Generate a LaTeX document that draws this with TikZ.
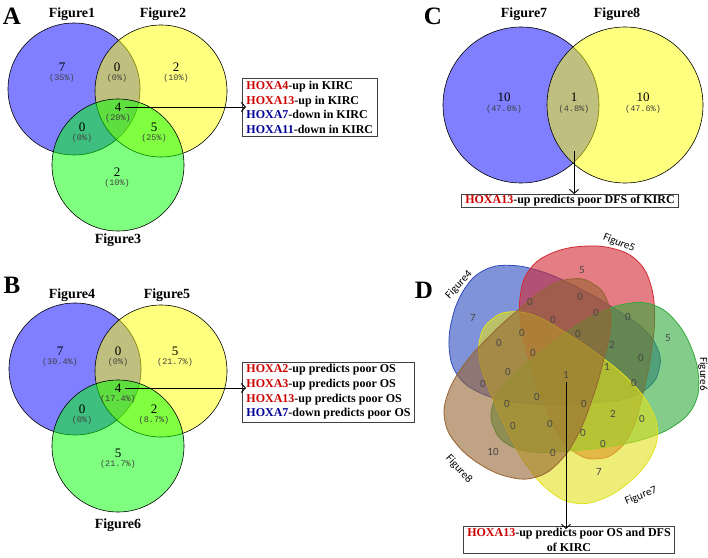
\documentclass[tikz,border=0pt]{standalone}
\usepackage{fontspec}
\setmainfont{Liberation Serif}
\newfontfamily\monof{Liberation Mono}
\newfontfamily\carl{Carlito}
\usetikzlibrary{arrows.meta}
\definecolor{hred}{RGB}{205,0,0}
\definecolor{hblue}{RGB}{0,0,150}
\definecolor{vblue}{RGB}{0,0,255}
\definecolor{vyel}{RGB}{255,255,0}
\definecolor{vgreen}{RGB}{0,255,0}
\definecolor{dblue}{RGB}{45,75,190}
\definecolor{dred}{RGB}{210,40,50}
\definecolor{dgreen}{RGB}{50,170,60}
\definecolor{dyel}{RGB}{225,225,30}
\definecolor{dbrown}{RGB}{150,100,50}
\tikzset{
  cnt/.style={font=\fontsize{13}{13}\selectfont, inner sep=0pt},
  pct/.style={font=\monof\fontsize{8.5}{8.5}\selectfont, text=black!75, inner sep=0pt},
  flab/.style={font=\bfseries\fontsize{14}{14}\selectfont, inner sep=0pt},
  plab/.style={font=\bfseries\fontsize{25}{25}\selectfont, inner sep=0pt},
  vc/.style={draw=black, line width=0.6pt, fill opacity=0.5},
  gbox/.style={draw=black!75, line width=0.9pt, font=\bfseries\fontsize{12}{14.7}\selectfont, inner xsep=4pt, inner ysep=2.5pt, fill=white},
  arr/.style={-{Straight Barb[length=4pt,width=9pt]}, line width=0.9pt},
  dn/.style={font=\carl\fontsize{11}{11}\selectfont, text=black!72, inner sep=0pt},
  dlab/.style={font=\carl\fontsize{11}{11}\selectfont, inner sep=0pt},
  blobd/.style={line width=0.8pt, fill opacity=0.6},
  blob/.pic={\path[pic actions] plot[smooth cycle, tension=0.7] coordinates
    {(106,0) (101,32) (87,54) (64,65) (32,67) (-5,61) (-45,50) (-82,36) (-102,18)
     (-107,0) (-102,-18) (-82,-36) (-45,-50) (-5,-61) (32,-67) (64,-65) (87,-54) (101,-32)};}
}
\begin{document}
\begin{tikzpicture}[x=1pt,y=1pt]
\useasboundingbox (0,0) rectangle (708,557);
\fill[white] (0,0) rectangle (708,557);
%%%%% Panel A
\node[plab] (lA) at (12,541) {A};
\node[flab] (f1) at (72,543) {Figure1};
\node[flab] (f2) at (163,543) {Figure2};
\node[flab] (f3) at (118,317) {Figure3};
\draw[vc, fill=vblue] (74,468) circle[radius=66];
\draw[vc, fill=vyel] (161,466) circle[radius=66];
\draw[vc, fill=vgreen] (118,392) circle[radius=66];
\node[cnt] (a1) at (62,490) {7};   \node[pct] (a1p) at (62,479) {(35\%)};
\node[cnt] (a2) at (117,490) {0};  \node[pct] (a2p) at (117,479) {(0\%)};
\node[cnt] (a3) at (176,490) {2};  \node[pct] (a3p) at (176,479) {(10\%)};
\node[cnt] (a4) at (118,450) {4};  \node[pct] (a4p) at (118,439) {(20\%)};
\node[cnt] (a5) at (82,430) {0};   \node[pct] (a5p) at (82,419) {(0\%)};
\node[cnt] (a6) at (154,430) {5};  \node[pct] (a6p) at (154,419) {(25\%)};
\node[cnt] (a7) at (117,385) {2};  \node[pct] (a7p) at (117,374) {(10\%)};
\node[gbox, anchor=west, align=left] (boxA) at (242,449.5)
  {\textcolor{hred}{HOXA4}-up in KIRC\\ \textcolor{hred}{HOXA13}-up in KIRC\\
   \textcolor{hblue}{HOXA7}-down in KIRC\\ \textcolor{hblue}{HOXA11}-down in KIRC};
\draw[arr] ([xshift=4pt]a4.east) -- ([xshift=4pt]a4.east -| boxA.west);
%%%%% Panel B
\node[plab] (lB) at (12,272) {B};
\node[flab] (f4) at (72,262) {Figure4};
\node[flab] (f5) at (167,262) {Figure5};
\node[flab] (f6) at (118,32) {Figure6};
\draw[vc, fill=vblue] (75,188) circle[radius=66];
\draw[vc, fill=vyel] (161,186) circle[radius=66];
\draw[vc, fill=vgreen] (118,111) circle[radius=66];
\node[cnt] (b1) at (60,206) {7};   \node[pct] (b1p) at (60,195) {(30.4\%)};
\node[cnt] (b2) at (118,206) {0};  \node[pct] (b2p) at (118,195) {(0\%)};
\node[cnt] (b3) at (175,206) {5};  \node[pct] (b3p) at (175,195) {(21.7\%)};
\node[cnt] (b4) at (118,169) {4};  \node[pct] (b4p) at (118,158) {(17.4\%)};
\node[cnt] (b5) at (82,148) {0};   \node[pct] (b5p) at (82,137) {(0\%)};
\node[cnt] (b6) at (154,148) {2};  \node[pct] (b6p) at (154,137) {(8.7\%)};
\node[cnt] (b7) at (118,104) {5};  \node[pct] (b7p) at (118,93) {(21.7\%)};
\node[gbox, anchor=west, align=left] (boxB) at (242,165)
  {\textcolor{hred}{HOXA2}-up predicts poor OS\\ \textcolor{hred}{HOXA3}-up predicts poor OS\\
   \textcolor{hred}{HOXA13}-up predicts poor OS\\ \textcolor{hblue}{HOXA7}-down predicts poor OS};
\draw[arr] ([xshift=4pt]b4.east) -- ([xshift=4pt]b4.east -| boxB.west);
%%%%% Panel C
\node[plab] (lC) at (433,541) {C};
\node[flab] (f7) at (524,543) {Figure7};
\node[flab] (f8) at (617,543) {Figure8};
\draw[vc, fill=vblue] (521,452) circle[radius=78];
\draw[vc, fill=vyel] (625,452) circle[radius=78];
\node[cnt] (c1) at (504,460) {10}; \node[pct] (c1p) at (504,448) {(47.6\%)};
\node[cnt] (c2) at (574,460) {1};  \node[pct] (c2p) at (574,448) {(4.8\%)};
\node[cnt] (c3) at (643,460) {10}; \node[pct] (c3p) at (643,448) {(47.6\%)};
\node[gbox, inner ysep=1pt] (boxC) at (570,356) {\textcolor{hred}{HOXA13}-up predicts poor DFS of KIRC};
\coordinate (cs) at (574,406);
\draw[arr] (cs) -- (cs |- boxC.north);
%%%%% Panel D
\node[plab] (lD) at (424,267) {D};
\pic[blobd, draw=dblue, fill=dblue, rotate=166] at (555.1,213.1) {blob};
\pic[blobd, draw=dred, fill=dred, rotate=94] at (590,205) {blob};
\pic[blobd, draw=dgreen, fill=dgreen, rotate=22] at (593.1,169.3) {blob};
\pic[blobd, draw=dyel, fill=dyel, rotate=-50] at (560.2,155.3) {blob};
\pic[blobd, draw=dbrown, fill=dbrown, rotate=-122] at (536.6,182.3) {blob};
\node[dlab, rotate=47] (g4) at (459,272) {Figure4};
\node[dlab, rotate=-22] (g5) at (619,314) {Figure5};
\node[dlab, rotate=-90] (g6) at (703,183) {Figure6};
\node[dlab, rotate=22] (g7) at (641,61) {Figure7};
\node[dlab, rotate=-47] (g8) at (459,88) {Figure8};
\foreach \x/\y/\t [count=\i] in {582/287/5, 530/255/0, 580/260/0, 596/244/0, 628/240/0,
  473/239/7, 553/237/0, 522/224/0, 578/223/0, 668/219/5, 499/214/0, 612/212/2,
  533/204/0, 641/199/0, 607/190/1, 508/185/0, 483/173/0, 634/174/0, 537/160/0,
  507/153/0, 584/153/0, 613/143/2, 642/138/0, 513/131/0, 550/133/0, 583/124/0,
  603/113/0, 493/105/10, 553/104/0, 599/85/7}
  {\node[dn] (d\i) at (\x,\y) {\t};}
\node[dn] (dc) at (566,182) {1};
\node[gbox, align=center, inner ysep=2pt] (boxD) at (569,17)
  {\textcolor{hred}{HOXA13}-up predicts poor OS and DFS\\ of KIRC};
\draw[arr] ([yshift=-3pt]dc.south) -- ([yshift=-3pt]dc.south |- boxD.north);
\end{tikzpicture}
\end{document}
